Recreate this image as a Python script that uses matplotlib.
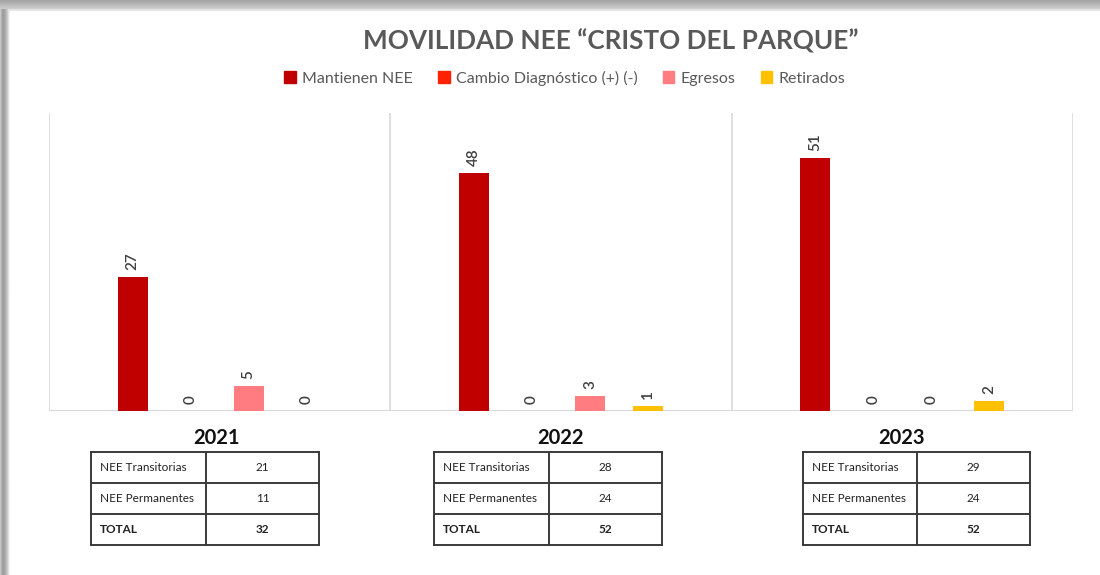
import numpy as np
import matplotlib
matplotlib.use("Agg")
import matplotlib.pyplot as plt
from matplotlib.patches import Patch

plt.rcParams["font.family"] = ["Lato", "DejaVu Sans"]

# Data
years = ["2021", "2022", "2023"]
series = ["Mantienen NEE", "Cambio Diagnóstico (+) (-)", "Egresos", "Retirados"]
mantienen = [27, 48, 51]
cambio = [0, 0, 0]
egresos = [5, 3, 0]
retirados = [0, 1, 2]
colors = ["#C00000", "#FF2200", "#FF7C80", "#FFC000"]

row_labels = ["NEE Transitorias", "NEE Permanentes", "TOTAL"]
transitorias = [21, 28, 29]
permanentes = [11, 24, 24]
totales = [32, 52, 52]

W, H = 1100, 575
fig = plt.figure(figsize=(11, 5.75), dpi=100)

# background axes in pixel coordinates for the frame and the tables
bg = fig.add_axes([0, 0, 1, 1])
bg.set_xlim(0, W)
bg.set_ylim(H, 0)
bg.axis("off")

# shadow around the card
top = np.linspace(0.64, 0.8, 9)[:, None] * np.ones((1, 10))
bg.imshow(top, cmap="gray", vmin=0, vmax=1, extent=(0, W, 9, 0), aspect="auto",
          interpolation="bilinear")
left = np.array([[0.78, 0.7, 0.64, 0.62, 0.64, 0.68, 0.74, 0.8, 0.88, 0.95]])
bg.imshow(left, cmap="gray", vmin=0, vmax=1, extent=(0, 10, H, 9), aspect="auto",
          interpolation="bilinear")
bg.plot([10, W], [10, 10], color="#e4e4e4", lw=1.5)

# bars
ax = fig.add_axes([49 / W, (H - 411) / H, (1073 - 49) / W, (411 - 113) / H])
x = np.arange(len(years))
step = 0.17
bw = 0.088
for i, (name, vals) in enumerate(zip(series, [mantienen, cambio, egresos, retirados])):
    pos = x + (i - 1.5) * step
    ax.bar(pos, vals, width=bw, color=colors[i], label=name, zorder=3)
    for px, v in zip(pos, vals):
        ax.annotate(str(v), (px, v), xytext=(0, 5), textcoords="offset points",
                    rotation=90, ha="center", va="bottom", fontsize=11,
                    color="#404040", fontweight="semibold")

ax.set_xlim(-0.5, 2.5)
ax.set_ylim(0, 60)
for b in np.arange(-0.5, 3, 1):
    ax.axvline(b, color="#d9d9d9", lw=1.2, zorder=1)
ax.axhline(0, color="#d9d9d9", lw=1.5, zorder=2)
ax.axis("off")

fig.suptitle("MOVILIDAD NEE \u201cCRISTO DEL PARQUE\u201d", x=611 / W, y=1 - 41 / H,
             va="center", fontsize=18.8, fontweight="bold", color="#595959")

handles = [Patch(color=c, label=s) for c, s in zip(colors, series)]
fig.legend(handles=handles, loc="center", bbox_to_anchor=(565 / W, 1 - 78 / H), ncol=4,
           frameon=False, fontsize=11.5, handlelength=0.7, handleheight=0.7,
           handletextpad=0.4, columnspacing=1.6, labelcolor="#595959")

# small tables under each year
tables = [(91, 206, 319, 217), (434, 549, 662, 560), (803, 917, 1030, 902)]
row_y = [452, 483, 514, 545]
for k, (xl, xm, xr, xc) in enumerate(tables):
    bg.text(xc, 438, years[k], ha="center", va="center", fontsize=14.5,
            fontweight="bold", color="#111111")
    for yy in row_y:
        bg.plot([xl, xr], [yy, yy], color="#3a3a3a", lw=1.4)
    for xx in (xl, xm, xr):
        bg.plot([xx, xx], [row_y[0], row_y[-1]], color="#3a3a3a", lw=1.4)
    vals = [transitorias[k], permanentes[k], totales[k]]
    for r in range(3):
        yc = (row_y[r] + row_y[r + 1]) / 2
        wt = "bold" if r == 2 else "normal"
        bg.text(xl + 9, yc, row_labels[r], ha="left", va="center", fontsize=8.5,
                fontweight=wt, color="#222222")
        bg.text((xm + xr) / 2, yc, str(vals[r]), ha="center", va="center",
                fontsize=8.5, fontweight=wt, color="#222222")

fig.savefig("out.png", dpi=100)
